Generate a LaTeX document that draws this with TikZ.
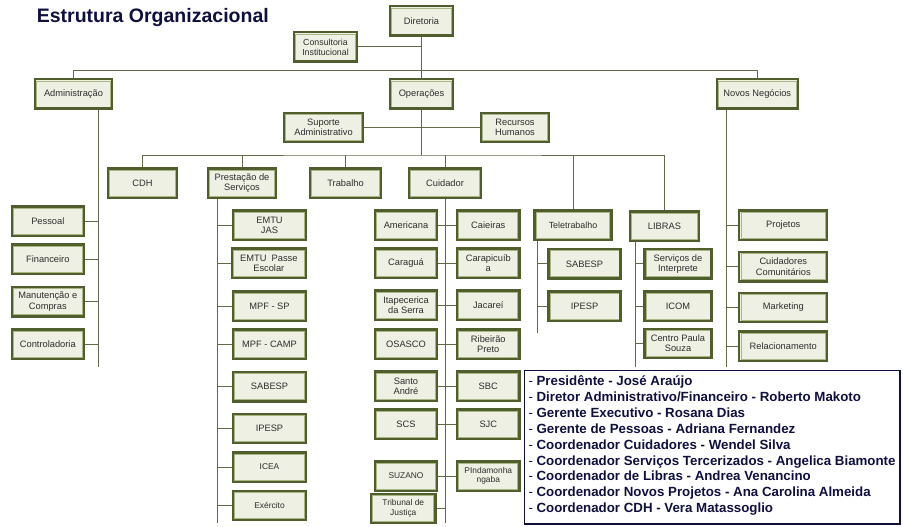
\documentclass[tikz,border=0pt]{standalone}
\usepackage{fontspec}
\setmainfont{Liberation Sans}
\definecolor{boxfill}{HTML}{EDF0E2}
\definecolor{boxdark}{HTML}{4F5E2C}
\definecolor{boxmid}{HTML}{A9B785}
\definecolor{linec}{HTML}{62694A}
\definecolor{txtc}{HTML}{2E2E2E}
\definecolor{navy}{HTML}{10103F}
\begin{document}
\begin{tikzpicture}[x=1pt,y=-1pt,
  obox/.style={draw=boxdark, line width=2.3pt, fill=boxfill, inner sep=0pt,
    minimum height=29.3, text=txtc, align=center,
    font=\fontsize{9.3}{10.3}\selectfont,
    path picture={\draw[boxmid, line width=0.9pt]
      ([shift={(1.65pt,1.65pt)}]path picture bounding box.south west) rectangle
      ([shift={(-1.65pt,-1.65pt)}]path picture bounding box.north east);}},
  small/.style={font=\fontsize{8.4}{9.6}\selectfont},
  conn/.style={draw=linec, line width=1pt},
  legtext/.style={anchor=base west, inner sep=0pt, text=navy, font=\fontsize{13.3}{15}\bfseries\selectfont}]
\fill[white] (0,0) rectangle (903,527);
\useasboundingbox (0,0) rectangle (903,527);

% coordinates for connector lines
\coordinate (barT) at (421.5,70.7);
\coordinate (opsB) at (421.5,155);
\coordinate (admA) at (98.3,110);
\coordinate (admB) at (98.3,366.7);
\coordinate (novA) at (726,110);
\coordinate (novB) at (726,366.7);
\coordinate (preA) at (217.3,199);
\coordinate (preB) at (217.3,523.3);
\coordinate (cuiA) at (445.5,199);
\coordinate (cuiB) at (445.5,523.3);
\coordinate (telA) at (537.3,241);
\coordinate (telB) at (537.3,332.7);
\coordinate (libA) at (635,242);
\coordinate (libB) at (635,366.7);

% vertical trunks (drawn first, boxes cover them)
\draw[conn] (421.5,37) -- (opsB);
\draw[conn] (admA) -- (admB);
\draw[conn] (novA) -- (novB);
\draw[conn] (preA) -- (preB);
\draw[conn] (cuiA) -- (cuiB);
\draw[conn] (telA) -- (telB);
\draw[conn] (libA) -- (libB);

% top levels
\node[obox,minimum width=63] (dir) at (421.5,21) {Diretoria};
\node[obox,minimum width=63,font=\fontsize{8.8}{9.9}\selectfont] (cons) at (325.5,47) {Consultoria\\Institucional};
\node[obox,minimum width=77] (adm) at (73.5,94) {Administração};
\node[obox,minimum width=63] (ops) at (421.5,94) {Operações};
\node[obox,minimum width=81] (nov) at (757.3,94) {Novos Negócios};
\node[obox,minimum width=79] (sup) at (323.5,127.5) {Suporte\\Administrativo};
\node[obox,minimum width=68] (rh) at (515,127.5) {Recursos\\Humanos};

% operations children
\node[obox,minimum width=69] (cdh) at (142.5,183) {CDH};
\node[obox,minimum width=68] (pre) at (242,183) {Prestação de\\Serviços};
\node[obox,minimum width=71] (tra) at (345.5,183) {Trabalho};
\node[obox,minimum width=72] (cui) at (445,183) {Cuidador};
\node[obox,minimum width=77,font=\fontsize{8.9}{10}\selectfont] (tel) at (573,225) {Teletrabalho};
\node[obox,minimum width=69] (lib) at (664.5,226) {LIBRAS};

% administration children
\node[obox,minimum width=72] (pes) at (47.8,221) {Pessoal};
\node[obox,minimum width=72] (fin) at (47.8,259) {Financeiro};
\node[obox,minimum width=72] (man) at (47.8,301.7) {Manutenção e\\Compras};
\node[obox,minimum width=72] (con) at (47.8,344) {Controladoria};

% prestacao children
\node[obox,minimum width=73] (jas) at (269.5,225) {EMTU\\JAS};
\node[obox,minimum width=74] (pas) at (268.8,263) {EMTU\ \ Passe\\Escolar};
\node[obox,minimum width=73] (mpfsp) at (269.5,306) {MPF - SP};
\node[obox,minimum width=73] (mpfc) at (269.5,344) {MPF - CAMP};
\node[obox,minimum width=73] (psab) at (269.5,386.7) {SABESP};
\node[obox,minimum width=73] (pipe) at (269.5,428.3) {IPESP};
\node[obox,minimum width=73,small] (icea) at (269.5,467) {ICEA};
\node[obox,minimum width=73,small] (exe) at (269.5,505.5) {Exército};

% cuidador children
\node[obox,minimum width=62] (ame) at (406,225) {Americana};
\node[obox,minimum width=62.5] (cai) at (488.3,225) {Caieiras};
\node[obox,minimum width=62] (car) at (406,263) {Caraguá};
\node[obox,minimum width=62.5] (crp) at (488.3,263) {Carapicuíb\\a};
\node[obox,minimum width=62] (ita) at (406,305) {Itapecerica\\da Serra};
\node[obox,minimum width=62.5] (jac) at (488.3,305) {Jacareí};
\node[obox,minimum width=62] (osa) at (406,344) {OSASCO};
\node[obox,minimum width=62.5] (rib) at (488.3,344) {Ribeirão\\Preto};
\node[obox,minimum width=62] (san) at (406,386) {Santo\\André};
\node[obox,minimum width=62.5] (sbc) at (488.3,386) {SBC};
\node[obox,minimum width=62] (scs) at (406,424) {SCS};
\node[obox,minimum width=62.5] (sjc) at (488.3,424) {SJC};
\node[obox,minimum width=62,small] (suz) at (406,476) {SUZANO};
\node[obox,minimum width=62.5,small] (pin) at (488.3,476) {PIndamonha\\ngaba};
\node[obox,minimum width=64.5,small] (tri) at (403.3,508.4) {Tribunal de\\Justiça};

% teletrabalho children
\node[obox,minimum width=72.2] (tsab) at (584.5,263.8) {SABESP};
\node[obox,minimum width=72.2] (tipe) at (584.5,306) {IPESP};

% libras children
\node[obox,minimum width=67.2] (svi) at (678,263.8) {Serviços de\\Interprete};
\node[obox,minimum width=67.2] (icom) at (678,306) {ICOM};
\node[obox,minimum width=67.2] (cps) at (678,343.5) {Centro Paula\\Souza};

% novos negocios children
\node[obox,minimum width=88] (proj) at (783.3,225) {Projetos};
\node[obox,minimum width=88] (ccom) at (783.3,266.7) {Cuidadores\\Comunitários};
\node[obox,minimum width=88] (mkt) at (783.3,307.5) {Marketing};
\node[obox,minimum width=88] (rel) at (783.3,346) {Relacionamento};

% connectors
\draw[conn] (cons.east) -- (cons.east -| dir.south);
\draw[conn] (adm.north) |- (barT) -| (nov.north);
\draw[conn] (sup.east) -- (rh.west);
\draw[conn] (cdh.north) |- (opsB) -| (lib.north);
\foreach \n in {pre,tra,cui,tel} \draw[conn] (\n.north) -- (\n.north |- opsB);
\foreach \n in {pes,fin,man,con} \draw[conn] (\n.east) -- (\n.east -| admA);
\foreach \n in {jas,pas,mpfsp,mpfc,psab,pipe,icea,exe} \draw[conn] (\n.west) -- (\n.west -| preA);
\foreach \n in {ame,car,ita,osa,san,scs,suz,tri} \draw[conn] (\n.east) -- (\n.east -| cuiA);
\foreach \n in {cai,crp,jac,rib,sbc,sjc,pin} \draw[conn] (\n.west) -- (\n.west -| cuiA);
\foreach \n in {tsab,tipe} \draw[conn] (\n.west) -- (\n.west -| telA);
\foreach \n in {svi,icom,cps} \draw[conn] (\n.west) -- (\n.west -| libA);
\foreach \n in {proj,ccom,mkt,rel} \draw[conn] (\n.west) -- (\n.west -| novA);

% legend
\node[draw=navy, line width=1.3pt, fill=white, inner sep=0pt, anchor=north west,
  minimum width=375.3, minimum height=153.3] (leg) at (524,370) {};
\node[legtext] (l1) at (528.3,385.5) {{\mdseries -} Presidênte - José Araújo};
\node[legtext] (l2) at (528.3,401.4) {{\mdseries -} Diretor Administrativo/Financeiro - Roberto Makoto};
\node[legtext] (l3) at (528.3,417.3) {{\mdseries -} Gerente Executivo - Rosana Dias};
\node[legtext] (l4) at (528.3,433.2) {{\mdseries -} Gerente de Pessoas - Adriana Fernandez};
\node[legtext] (l5) at (528.3,449.1) {{\mdseries -} Coordenador Cuidadores - Wendel Silva};
\node[legtext] (l6) at (528.3,465.0) {{\mdseries -} Coordenador Serviços Tercerizados - Angelica Biamonte};
\node[legtext] (l7) at (528.3,480.9) {{\mdseries -} Coordenador de Libras - Andrea Venancino};
\node[legtext] (l8) at (528.3,496.8) {{\mdseries -} Coordenador Novos Projetos - Ana Carolina Almeida};
\node[legtext] (l9) at (528.3,512.7) {{\mdseries -} Coordenador CDH - Vera Matassoglio};

% title
\node[anchor=base west, inner sep=0pt, text=navy, font=\fontsize{19.5}{22}\bfseries\selectfont] (title) at (36.7,22.7) {Estrutura Organizacional};
\end{tikzpicture}
\end{document}
